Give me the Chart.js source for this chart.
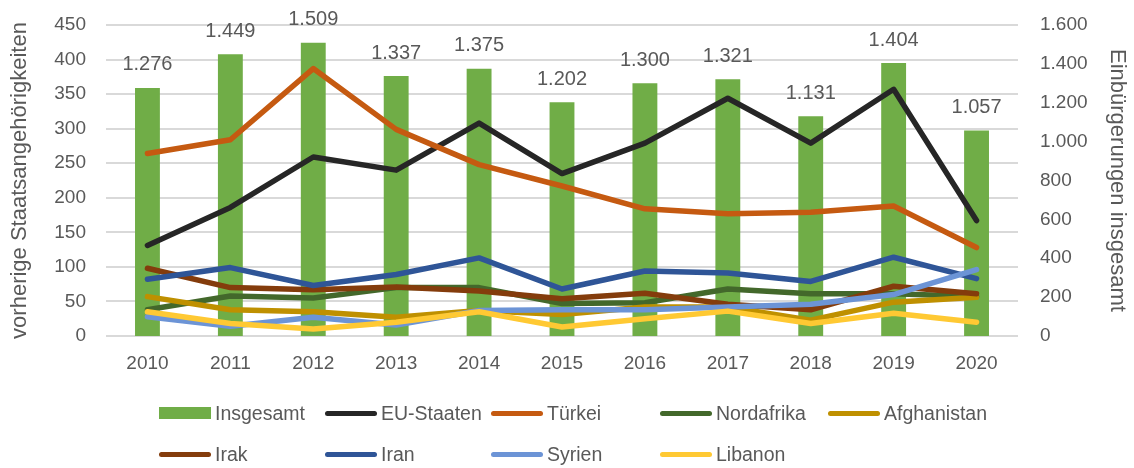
<!DOCTYPE html>
<html>
<head>
<meta charset="utf-8">
<script src="https://cdn.jsdelivr.net/npm/chart.js@4/dist/chart.umd.min.js"></script>
<style>
  html, body { margin: 0; padding: 0; background: #fff; }
  #wrap { position: relative; width: 1134px; height: 468px; }
  #legend { position: absolute; left: 0; top: 0; width: 1134px; height: 468px; pointer-events: none;
    font-family: 'Liberation Sans', Arial, sans-serif; font-size: 19.5px; color: #595959; }
  .item { position: absolute; display: flex; align-items: center; white-space: nowrap; }
  .sw { width: 52px; margin-right: 4px; }
  .box { height: 12px; }
  .ln { height: 5px; border-radius: 3px; }
</style>
</head>
<body>
<div id="wrap">
  <canvas id="c" width="1134" height="468"></canvas>
  <div id="legend"></div>
</div>
<script>
const FONT = "'Liberation Sans', Arial, sans-serif";
const TEXT = '#595959';

const years = ['2010','2011','2012','2013','2014','2015','2016','2017','2018','2019','2020'];
const insgesamt   = [1276, 1449, 1509, 1337, 1375, 1202, 1300, 1321, 1131, 1404, 1057];
const euStaaten   = [131, 186, 259, 240, 308, 235, 279, 344, 279, 357, 167];
const tuerkei     = [264, 284, 387, 299, 248, 217, 184, 177, 179, 188, 128];
const nordafrika  = [38, 58, 55, 70, 70, 47, 48, 68, 61, 61, 57];
const afghanistan = [57, 38, 35, 27, 37, 31, 42, 42, 23, 49, 56];
const irak        = [98, 70, 67, 71, 65, 54, 62, 46, 38, 72, 61];
const iran        = [82, 99, 73, 89, 113, 68, 94, 91, 79, 114, 83];
const syrien      = [28, 14, 27, 16, 37, 38, 38, 42, 46, 60, 96];
const libanon     = [35, 18, 10, 20, 35, 13, 25, 36, 18, 33, 20];

const leftTicks = [0, 50, 100, 150, 200, 250, 300, 350, 400, 450];
const rightTicks = [0, 200, 400, 600, 800, 1000, 1200, 1400, 1600];

function de(n) { return String(n).replace(/\B(?=(\d{3})+(?!\d))/g, '.'); }

const lineSeries = [
  { label: 'EU-Staaten', data: euStaaten, color: '#262626' },
  { label: 'Türkei', data: tuerkei, color: '#C55A11' },
  { label: 'Nordafrika', data: nordafrika, color: '#43682B' },
  { label: 'Afghanistan', data: afghanistan, color: '#BF9000' },
  { label: 'Irak', data: irak, color: '#843C0C' },
  { label: 'Iran', data: iran, color: '#2F5597' },
  { label: 'Syrien', data: syrien, color: '#6C94D6' },
  { label: 'Libanon', data: libanon, color: '#FFC933' }
];
const barColor = '#70AD47';

const datasets = [{
  type: 'bar', label: 'Insgesamt', data: insgesamt, yAxisID: 'y1',
  backgroundColor: barColor, borderWidth: 0, barPercentage: 0.6, categoryPercentage: 0.5, order: 20
}];
lineSeries.forEach((s, i) => {
  datasets.push({
    type: 'line', label: s.label, data: s.data, yAxisID: 'y',
    borderColor: s.color, backgroundColor: s.color, borderWidth: 5.5,
    pointRadius: 0, tension: 0, borderJoinStyle: 'round', borderCapStyle: 'round',
    order: 10 - i
  });
});

const barLabels = {
  id: 'barLabels',
  afterDatasetsDraw(chart) {
    const ctx = chart.ctx;
    const meta = chart.getDatasetMeta(0);
    ctx.save();
    ctx.font = '20px ' + FONT;
    ctx.fillStyle = TEXT;
    ctx.textAlign = 'center';
    ctx.textBaseline = 'middle';
    meta.data.forEach((el, i) => {
      ctx.fillText(de(insgesamt[i]), el.x, el.y - 23);
    });
    ctx.restore();
  }
};

new Chart(document.getElementById('c'), {
  data: { labels: years, datasets },
  plugins: [barLabels],
  options: {
    responsive: false,
    animation: false,
    layout: { padding: { top: 25, bottom: 87, left: 0, right: 0 } },
    plugins: { legend: { display: false }, tooltip: { enabled: false } },
    scales: {
      x: {
        grid: { display: false, drawTicks: false },
        border: { display: false },
        ticks: { color: TEXT, font: { family: FONT, size: 19 }, padding: 16 },
        afterFit(s) { s.height = 45; s.paddingLeft = 0; s.paddingRight = 0; }
      },
      y: {
        position: 'left', min: 0, max: 450,
        afterBuildTicks(s) { s.ticks = leftTicks.map(v => ({ value: v })); },
        grid: { color: '#D9D9D9', lineWidth: 2, drawTicks: false },
        border: { display: false },
        ticks: { color: TEXT, font: { family: FONT, size: 19 }, padding: 20, callback: v => de(v) },
        title: { display: true, text: 'vorherige Staatsangehörigkeiten', color: TEXT, font: { family: FONT, size: 22 }, padding: { top: 7, bottom: 0 } },
        afterFit(s) { s.width = 106; s.paddingTop = 0; s.paddingBottom = 0; }
      },
      y1: {
        position: 'right', min: 0, max: 1600,
        afterBuildTicks(s) { s.ticks = rightTicks.map(v => ({ value: v })); },
        grid: { display: false, drawTicks: false },
        border: { display: false },
        ticks: { color: TEXT, font: { family: FONT, size: 19 }, padding: 22, callback: v => de(v) },
        title: { display: true, text: 'Einbürgerungen insgesamt', color: TEXT, font: { family: FONT, size: 22 }, padding: { top: 4, bottom: 0 } },
        afterFit(s) { s.width = 116; s.paddingTop = 0; s.paddingBottom = 0; }
      }
    }
  }
});

// legend laid out like the reference (grid of 5 columns, 2 rows)
const legendItems = [{ label: 'Insgesamt', color: barColor, box: true }].concat(lineSeries.map(s => ({ label: s.label, color: s.color })));
const colX = [159, 325, 491, 660, 828];
const rowY = [413, 454];
const lg = document.getElementById('legend');
legendItems.forEach((it, i) => {
  const r = Math.floor(i / 5), c = i % 5;
  const d = document.createElement('div');
  d.className = 'item';
  d.style.left = colX[c] + 'px';
  d.style.top = (rowY[r] - 14) + 'px';
  d.style.height = '28px';
  const sw = document.createElement('span');
  sw.className = 'sw ' + (it.box ? 'box' : 'ln');
  sw.style.background = it.color;
  const t = document.createElement('span');
  t.textContent = it.label;
  d.appendChild(sw); d.appendChild(t);
  lg.appendChild(d);
});
</script>
</body>
</html>
